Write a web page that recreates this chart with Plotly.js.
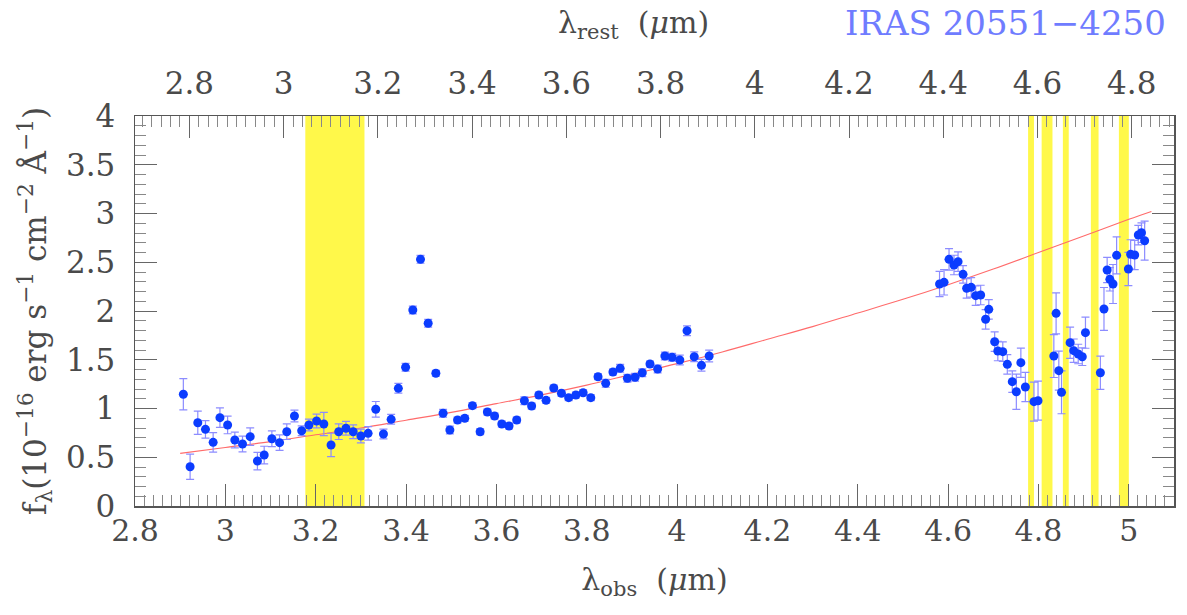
<!DOCTYPE html>
<html>
<head>
<meta charset="utf-8">
<script src="https://cdn.plot.ly/plotly-3.0.1.min.js"></script>
<style>html,body{margin:0;padding:0;background:#fff;}#chart{width:1187px;height:615px;}</style>
</head>
<body>
<div id="chart"></div>
<script>
// Redshift used for the rest-frame (top) axis
const redshift = 0.043;

// Observed wavelength (micron), short-wavelength segment
const obsShort = [2.907,2.922,2.939,2.956,2.973,2.988,3.005,3.021,3.038,3.055,3.071,3.086,3.103,3.120,3.136,3.153,3.169,3.185,3.202,3.218,3.234,3.251,3.267,3.283,3.300,3.316,3.333,3.350,3.367,3.383,3.399,3.415,3.432,3.449,3.466,3.482,3.497,3.514,3.530,3.547,3.564,3.580,3.596,3.612,3.628,3.645,3.662,3.678,3.694,3.710,3.727,3.744,3.760,3.776,3.792,3.809,3.825,3.842,3.858,3.874,3.890,3.907,3.923,3.940,3.957,3.973,3.989,4.006,4.022,4.038,4.054,4.071];
const fluxShort = [1.146,0.403,0.854,0.786,0.653,0.906,0.831,0.677,0.636,0.711,0.461,0.523,0.690,0.650,0.762,0.923,0.772,0.831,0.872,0.841,0.626,0.762,0.797,0.762,0.718,0.745,0.992,0.738,0.889,1.207,1.423,2.010,2.530,1.874,1.361,0.951,0.779,0.882,0.899,1.029,0.762,0.964,0.923,0.841,0.821,0.882,1.080,1.026,1.138,1.084,1.210,1.156,1.111,1.138,1.162,1.111,1.326,1.258,1.374,1.412,1.310,1.320,1.367,1.456,1.405,1.538,1.525,1.497,1.798,1.531,1.443,1.538];
const errShort = [0.16,0.13,0.12,0.09,0.10,0.10,0.09,0.08,0.08,0.09,0.09,0.09,0.08,0.08,0.08,0.06,0.05,0.06,0.07,0.12,0.12,0.08,0.07,0.07,0.07,0.07,0.08,0.05,0.05,0.05,0.04,0.04,0.04,0.04,0.03,0.04,0.04,0.03,0.03,0.03,0.03,0.03,0.03,0.03,0.03,0.03,0.04,0.03,0.03,0.03,0.03,0.03,0.03,0.03,0.03,0.03,0.03,0.04,0.03,0.04,0.04,0.04,0.04,0.03,0.04,0.04,0.04,0.05,0.05,0.05,0.06,0.06];

// Observed wavelength (micron), long-wavelength segment
const obsLong = [4.581,4.591,4.602,4.613,4.622,4.633,4.641,4.651,4.661,4.672,4.683,4.690,4.703,4.710,4.721,4.731,4.742,4.751,4.761,4.771,4.790,4.799,4.834,4.839,4.845,4.851,4.870,4.878,4.888,4.897,4.904,4.937,4.945,4.952,4.958,4.965,4.973,4.999,5.004,5.013,5.021,5.028,5.035];
const fluxLong = [2.277,2.294,2.530,2.472,2.506,2.376,2.233,2.243,2.157,2.164,1.915,2.017,1.685,1.590,1.583,1.453,1.275,1.172,1.470,1.221,1.070,1.080,1.538,1.976,1.388,1.166,1.675,1.593,1.559,1.531,1.778,1.367,2.021,2.421,2.325,2.277,2.571,2.431,2.581,2.574,2.779,2.803,2.721];
const errLong = [0.13,0.13,0.11,0.10,0.10,0.09,0.10,0.10,0.10,0.10,0.10,0.10,0.10,0.10,0.10,0.10,0.11,0.18,0.15,0.15,0.20,0.20,0.22,0.21,0.20,0.22,0.16,0.12,0.10,0.09,0.16,0.17,0.22,0.13,0.12,0.20,0.19,0.17,0.15,0.15,0.10,0.10,0.20];

// Continuum fit (red curve)
const fitObs = [2.90,3.00,3.10,3.20,3.30,3.40,3.50,3.60,3.70,3.80,3.90,4.00,4.10,4.20,4.30,4.40,4.50,4.60,4.70,4.80,4.90,5.00,5.05];
const fitFlux = [0.54,0.60,0.66,0.73,0.80,0.88,0.96,1.05,1.14,1.24,1.35,1.46,1.58,1.71,1.84,1.98,2.12,2.27,2.43,2.60,2.77,2.94,3.02];

// Masked (yellow) wavelength intervals, observed micron
const bandStart = [3.177,4.777,4.807,4.854,4.916,4.978];
const bandEnd   = [3.308,4.790,4.831,4.867,4.933,5.000];

const obsAll = obsShort.concat(obsLong);
const fluxAll = fluxShort.concat(fluxLong);
const errAll = errShort.concat(errLong);

const FONT = 'DejaVu Serif, Liberation Serif, serif';
const TXT = '#4a4a4a';

const traces = [
  {
    x: fitObs, y: fitFlux, type: 'scatter', mode: 'lines',
    line: {color: '#ff6b6b', width: 1.1, shape: 'spline'},
    hoverinfo: 'skip', showlegend: false
  },
  {
    x: obsAll, y: fluxAll, type: 'scatter', mode: 'markers',
    marker: {color: '#0b3cff', size: 9, line: {width: 0}},
    error_y: {type: 'data', array: errAll, visible: true, color: '#8c8cff', thickness: 1.2, width: 4},
    showlegend: false
  },
  {
    x: obsAll.map(v => v / (1 + redshift)), y: fluxAll, xaxis: 'x2', yaxis: 'y',
    type: 'scatter', mode: 'markers', marker: {opacity: 0, size: 1},
    hoverinfo: 'skip', showlegend: false
  }
];

const shapes = bandStart.map((s, i) => ({
  type: 'rect', xref: 'x', yref: 'paper', x0: s, x1: bandEnd[i], y0: 0, y1: 1,
  fillcolor: '#fff84a', line: {width: 0}, layer: 'below'
}));

const xmin = 2.8, xmax = 5.1;

const layout = {
  width: 1187, height: 615,
  margin: {l: 135, r: 13, t: 116, b: 109},
  paper_bgcolor: '#fff', plot_bgcolor: 'rgba(0,0,0,0)',
  font: {family: FONT, size: 30, color: TXT},
  title: {
    text: 'IRAS 20551\u22124250',
    font: {family: FONT, size: 34, color: '#6f7cff'},
    xref: 'container', yref: 'container', x: 0.847, y: 0.963,
    xanchor: 'center', yanchor: 'middle'
  },
  showlegend: false,
  shapes: shapes,
  annotations: [{
    text: '\u03bb<sub>rest</sub>  (<i>\u03bc</i>m)', xref: 'paper', yref: 'paper',
    x: 0.480, y: 1.235, xanchor: 'center', yanchor: 'middle', showarrow: false,
    font: {family: FONT, size: 30, color: TXT}
  }],
  xaxis: {
    range: [xmin, xmax], dtick: 0.2, tick0: 0,
    showgrid: false, zeroline: false,
    showline: true, linecolor: '#555', linewidth: 1.5, mirror: false,
    ticks: 'inside', ticklen: 22, tickwidth: 1, tickcolor: '#666',
    minor: {dtick: 0.02, ticks: 'inside', ticklen: 11, tickwidth: 1, tickcolor: '#888', showgrid: false},
    tickfont: {family: FONT, size: 30, color: TXT},
    ticklabelstandoff: -3,
    title: {text: '\u03bb<sub>obs</sub>  (<i>\u03bc</i>m)', font: {family: FONT, size: 30, color: TXT}, standoff: 22}
  },
  xaxis2: {
    overlaying: 'x', side: 'top', anchor: 'y',
    range: [xmin / (1 + redshift), xmax / (1 + redshift)], dtick: 0.2, tick0: 0,
    showgrid: false, zeroline: false,
    showline: true, linecolor: '#555', linewidth: 1.5,
    ticks: 'inside', ticklen: 22, tickwidth: 1, tickcolor: '#666',
    minor: {dtick: 0.02, ticks: 'inside', ticklen: 11, tickwidth: 1, tickcolor: '#888', showgrid: false},
    tickfont: {family: FONT, size: 31, color: TXT},
    ticklabelstandoff: 8
  },
  yaxis: {
    range: [0, 4], dtick: 0.5, tick0: 0,
    showgrid: false, zeroline: false,
    showline: true, linecolor: '#555', linewidth: 1.5, mirror: 'ticks',
    ticks: 'inside', ticklen: 22, tickwidth: 1, tickcolor: '#666',
    minor: {dtick: 0.1, ticks: 'inside', ticklen: 11, tickwidth: 1, tickcolor: '#888', showgrid: false},
    tickfont: {family: FONT, size: 31, color: TXT},
    ticklabelstandoff: 12,
    title: {text: 'f<sub>\u03bb</sub>(10<sup>\u221216</sup> erg s<sup>\u22121</sup> cm<sup>\u22122</sup> \u00c5<sup>\u22121</sup>)', font: {family: FONT, size: 31, color: TXT}, standoff: 10}
  }
};

Plotly.newPlot('chart', traces, layout, {displayModeBar: false, staticPlot: true});
</script>
</body>
</html>
